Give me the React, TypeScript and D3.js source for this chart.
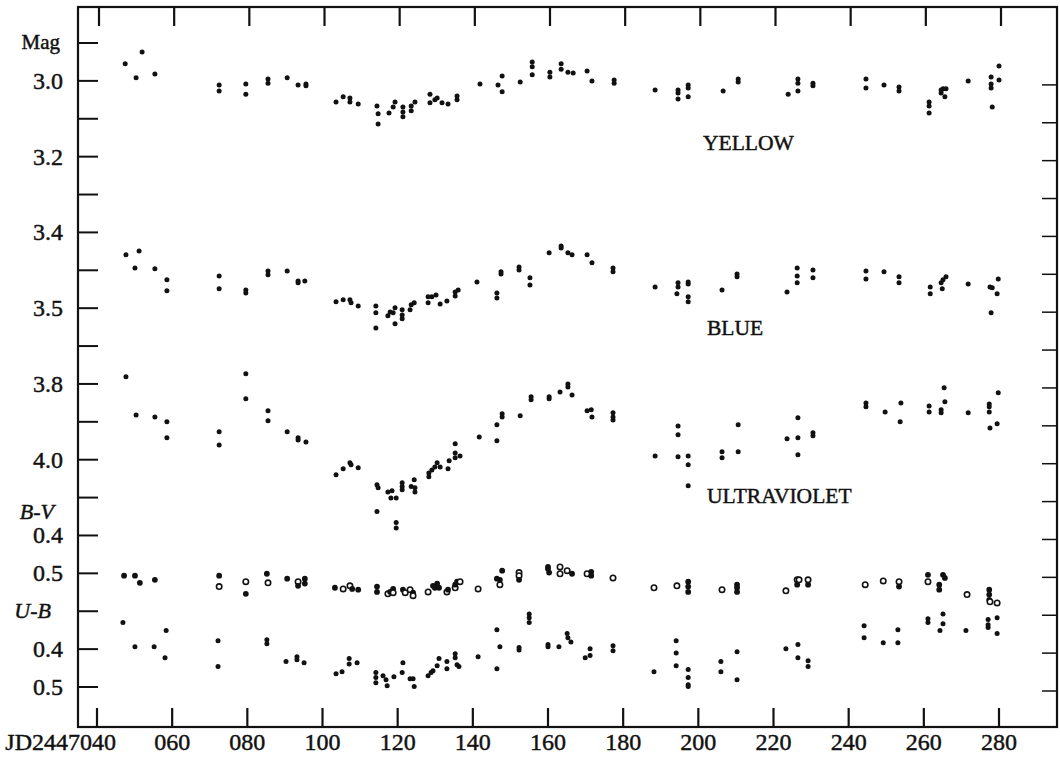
import React, { useRef, useEffect } from 'react';
import * as d3 from 'd3';

// days after JD 2447000
const xTicks = [40, 60, 80, 100, 120, 140, 160, 180, 200, 220, 240, 260, 280];
const xTickLabels = ['JD2447040', '060', '080', '100', '120', '140', '160', '180', '200', '220', '240', '260', '280'];

// tick labels per curve
const yellowTicks = [3.0, 3.2, 3.4];
const blueTicks = [3.5];
const uvTicks = [3.8, 4.0];
const bvTicks = [0.4, 0.5];
const ubTicks = [0.4, 0.5];

// [day, mag]
const yellow = [
  [47.5, 2.955], [50.4, 2.992], [52.0, 2.924], [55.4, 2.982], [72.5, 3.011], [72.5, 3.027], [79.6, 3.008], [79.6, 3.035],
  [85.5, 2.995], [85.5, 3.006], [90.6, 2.992], [93.5, 3.011], [95.6, 3.008], [95.6, 3.013], [103.6, 3.056], [105.5, 3.042],
  [107.3, 3.045], [107.3, 3.056], [109.5, 3.061], [114.5, 3.066], [114.8, 3.087], [114.8, 3.114], [117.7, 3.085], [118.8, 3.069],
  [119.3, 3.056], [121.4, 3.069], [121.4, 3.082], [121.4, 3.095], [123.6, 3.066], [123.6, 3.079], [124.6, 3.056], [128.6, 3.035],
  [128.6, 3.058], [129.9, 3.05], [130.5, 3.045], [131.8, 3.058], [133.4, 3.061], [135.8, 3.04], [135.8, 3.05], [141.9, 3.008],
  [146.7, 3.011], [147.8, 2.987], [147.8, 3.029], [152.6, 3.003], [155.8, 2.95], [155.8, 2.963], [155.8, 2.984], [160.5, 2.977],
  [160.5, 2.99], [163.5, 2.955], [163.5, 2.969], [165.3, 2.977], [166.7, 2.979], [170.4, 2.974], [171.7, 3.0], [177.6, 2.998],
  [177.6, 3.006], [188.5, 3.024], [194.6, 3.024], [194.6, 3.032], [194.6, 3.048], [197.3, 3.011], [197.3, 3.019], [197.3, 3.042],
  [206.6, 3.027], [210.6, 2.995], [210.6, 3.003], [223.9, 3.035], [226.5, 2.995], [226.5, 3.006], [226.5, 3.027], [230.5, 3.006],
  [230.5, 3.013], [244.6, 2.995], [244.6, 3.019], [249.4, 3.011], [253.4, 3.016], [253.4, 3.027], [261.4, 3.056], [261.4, 3.066],
  [261.4, 3.085], [264.6, 3.024], [265.1, 3.021], [265.9, 3.021], [265.6, 3.042], [264.6, 3.032], [271.8, 3.0], [277.9, 2.99],
  [277.9, 3.008], [277.9, 3.019], [278.2, 3.069], [280.0, 2.961], [280.0, 2.998],
];

const blue = [
  [47.7, 3.359], [51.2, 3.349], [50.1, 3.394], [55.4, 3.396], [58.6, 3.425], [58.6, 3.454], [72.5, 3.415], [72.5, 3.449],
  [79.6, 3.452], [79.6, 3.46], [85.5, 3.402], [85.5, 3.412], [90.6, 3.402], [93.5, 3.428], [93.5, 3.433], [95.3, 3.428],
  [103.6, 3.483], [105.5, 3.478], [107.3, 3.478], [107.6, 3.486], [109.5, 3.494], [114.2, 3.494], [114.2, 3.512], [114.2, 3.552],
  [117.4, 3.52], [118.0, 3.51], [118.8, 3.512], [119.3, 3.499], [119.3, 3.541], [121.2, 3.504], [121.2, 3.518], [121.2, 3.528],
  [123.3, 3.504], [123.6, 3.491], [124.4, 3.486], [128.1, 3.47], [128.1, 3.486], [129.1, 3.47], [130.2, 3.465], [131.3, 3.489],
  [133.1, 3.481], [135.3, 3.457], [135.3, 3.468], [136.1, 3.452], [141.1, 3.431], [146.4, 3.46], [146.4, 3.473], [147.5, 3.404],
  [147.5, 3.41], [152.3, 3.391], [152.3, 3.399], [155.2, 3.42], [155.2, 3.439], [160.3, 3.354], [163.5, 3.336], [163.5, 3.341],
  [165.3, 3.354], [166.4, 3.359], [170.4, 3.359], [171.7, 3.38], [177.3, 3.394], [177.3, 3.404], [188.5, 3.444], [194.6, 3.433],
  [194.6, 3.444], [194.3, 3.462], [197.3, 3.431], [197.3, 3.436], [197.3, 3.47], [197.3, 3.483], [206.3, 3.452], [210.3, 3.41],
  [210.3, 3.417], [223.6, 3.457], [226.3, 3.394], [226.3, 3.415], [226.3, 3.433], [230.5, 3.399], [230.5, 3.42], [244.6, 3.402],
  [244.6, 3.423], [249.4, 3.404], [253.4, 3.417], [253.4, 3.433], [261.7, 3.444], [261.7, 3.462], [264.6, 3.433], [265.1, 3.425],
  [265.9, 3.417], [264.9, 3.449], [271.8, 3.436], [277.6, 3.444], [278.2, 3.446], [279.5, 3.462], [279.8, 3.423], [277.9, 3.512],
];

const ultraviolet = [
  [47.7, 3.781], [50.4, 3.882], [55.4, 3.887], [58.6, 3.9], [58.6, 3.942], [72.5, 3.926], [72.5, 3.961], [79.6, 3.773],
  [79.6, 3.839], [85.5, 3.871], [85.5, 3.897], [90.6, 3.926], [93.5, 3.942], [93.5, 3.948], [95.6, 3.953], [103.6, 4.04],
  [105.5, 4.024], [107.3, 4.008], [107.6, 4.013], [109.5, 4.021], [114.5, 4.066], [114.8, 4.074], [114.5, 4.137], [117.4, 4.085],
  [118.5, 4.082], [118.2, 4.101], [119.6, 4.101], [119.6, 4.166], [119.6, 4.18], [121.2, 4.061], [121.2, 4.071], [121.2, 4.079],
  [123.6, 4.071], [124.4, 4.053], [124.6, 4.074], [124.6, 4.085], [128.3, 4.035], [128.3, 4.045], [129.1, 4.027], [129.9, 4.019],
  [130.5, 4.008], [131.3, 4.019], [133.4, 4.024], [133.7, 4.003], [135.3, 3.958], [135.3, 3.982], [135.3, 3.995], [136.6, 3.99],
  [141.7, 3.94], [146.4, 3.908], [146.4, 3.95], [147.8, 3.879], [147.8, 3.887], [152.6, 3.884], [155.5, 3.834], [155.5, 3.842],
  [160.3, 3.834], [160.3, 3.839], [163.2, 3.821], [165.3, 3.8], [165.3, 3.808], [166.4, 3.829], [170.4, 3.871], [171.5, 3.868],
  [171.7, 3.887], [177.3, 3.876], [177.3, 3.887], [177.3, 3.895], [188.5, 3.99], [194.6, 3.911], [194.6, 3.934], [194.6, 3.992],
  [197.3, 3.99], [197.3, 4.013], [197.3, 4.069], [206.3, 3.979], [206.3, 3.995], [210.6, 3.908], [210.6, 3.979], [223.6, 3.945],
  [226.5, 3.889], [226.5, 3.942], [226.5, 3.987], [230.5, 3.929], [230.5, 3.937], [244.6, 3.85], [244.6, 3.86], [249.7, 3.874],
  [253.9, 3.85], [253.7, 3.9], [261.4, 3.858], [261.4, 3.874], [264.6, 3.868], [264.6, 3.876], [265.6, 3.847], [265.4, 3.81],
  [271.8, 3.876], [277.4, 3.853], [277.4, 3.86], [277.4, 3.874], [277.6, 3.916], [279.8, 3.823], [279.5, 3.905],
];

// [day, B-V, open circle 1/0]
const bMinusV = [
  [47.2, 0.506, 0], [50.1, 0.506, 0], [51.4, 0.525, 0], [55.4, 0.517, 0], [72.5, 0.506, 0], [72.5, 0.535, 1], [79.6, 0.522, 1],
  [79.6, 0.554, 0], [85.2, 0.501, 0], [85.5, 0.525, 1], [90.6, 0.514, 0], [93.5, 0.522, 1], [93.5, 0.533, 0], [95.3, 0.514, 0],
  [95.3, 0.527, 0], [103.3, 0.538, 0], [105.5, 0.541, 1], [107.3, 0.533, 1], [107.9, 0.541, 0], [109.5, 0.543, 0], [114.5, 0.535, 0],
  [114.5, 0.549, 0], [117.4, 0.554, 1], [118.0, 0.549, 0], [118.8, 0.541, 0], [118.8, 0.551, 1], [121.4, 0.543, 0], [122.0, 0.551, 1],
  [123.3, 0.543, 1], [124.1, 0.551, 0], [124.1, 0.559, 1], [128.1, 0.549, 1], [129.4, 0.533, 0], [129.9, 0.538, 0], [130.5, 0.527, 0],
  [131.0, 0.538, 0], [133.1, 0.549, 1], [133.4, 0.543, 0], [135.3, 0.538, 1], [135.3, 0.53, 0], [135.8, 0.522, 0], [136.6, 0.522, 1],
  [141.4, 0.541, 1], [146.4, 0.514, 0], [147.2, 0.53, 1], [147.8, 0.493, 0], [147.2, 0.517, 0], [152.3, 0.498, 1], [152.3, 0.506, 1],
  [152.3, 0.517, 0], [160.0, 0.483, 0], [160.0, 0.488, 0], [160.3, 0.498, 0], [163.2, 0.483, 1], [163.2, 0.501, 1], [165.1, 0.493, 1],
  [166.4, 0.501, 0], [170.4, 0.501, 1], [171.5, 0.496, 0], [171.5, 0.506, 0], [177.3, 0.512, 1], [188.2, 0.538, 1], [194.3, 0.533, 1],
  [197.3, 0.522, 0], [197.3, 0.535, 0], [197.3, 0.549, 0], [206.3, 0.543, 1], [210.3, 0.53, 0], [210.3, 0.538, 0], [210.3, 0.549, 0],
  [223.3, 0.546, 1], [226.3, 0.517, 1], [226.3, 0.53, 0], [226.8, 0.517, 1], [229.2, 0.517, 1], [229.2, 0.53, 0], [244.4, 0.53, 1],
  [249.2, 0.52, 1], [253.4, 0.522, 1], [253.4, 0.535, 0], [261.1, 0.504, 0], [261.1, 0.522, 1], [264.1, 0.53, 0], [264.1, 0.543, 0],
  [265.1, 0.504, 0], [265.6, 0.512, 0], [271.5, 0.556, 1], [277.4, 0.543, 0], [277.4, 0.556, 0], [277.4, 0.57, 0], [277.6, 0.575, 1],
  [279.5, 0.578, 1],
];

const uMinusB = [
  [46.9, 0.33], [50.1, 0.394], [55.2, 0.394], [58.4, 0.351], [58.1, 0.423], [72.2, 0.378], [72.2, 0.446], [85.2, 0.375],
  [85.2, 0.386], [90.3, 0.433], [93.2, 0.42], [93.2, 0.428], [95.1, 0.436], [103.6, 0.465], [105.2, 0.46], [107.1, 0.425],
  [107.1, 0.439], [109.2, 0.436], [114.2, 0.462], [114.2, 0.475], [114.2, 0.489], [116.1, 0.47], [116.9, 0.481], [117.2, 0.497],
  [119.0, 0.473], [121.2, 0.462], [121.4, 0.436], [123.3, 0.478], [124.1, 0.478], [124.4, 0.499], [128.1, 0.47], [128.9, 0.462],
  [129.4, 0.457], [130.5, 0.444], [131.0, 0.425], [133.1, 0.433], [133.1, 0.452], [135.3, 0.412], [135.3, 0.423], [135.8, 0.441],
  [136.3, 0.446], [141.4, 0.42], [146.4, 0.349], [147.2, 0.394], [146.4, 0.452], [152.3, 0.396], [152.3, 0.402], [155.0, 0.307],
  [155.0, 0.317], [155.0, 0.33], [160.0, 0.388], [160.0, 0.394], [162.9, 0.394], [165.1, 0.359], [165.3, 0.37], [166.1, 0.381],
  [169.9, 0.423], [171.2, 0.399], [171.2, 0.417], [177.3, 0.391], [177.3, 0.404], [188.2, 0.46], [194.1, 0.378], [194.1, 0.41],
  [194.1, 0.444], [197.3, 0.454], [197.3, 0.475], [197.3, 0.494], [197.3, 0.499], [206.0, 0.433], [206.0, 0.46], [210.3, 0.407],
  [210.3, 0.481], [223.3, 0.399], [226.5, 0.388], [226.5, 0.423], [229.2, 0.431], [229.2, 0.446], [244.1, 0.338], [244.1, 0.37],
  [249.2, 0.383], [253.1, 0.349], [253.1, 0.383], [261.1, 0.32], [261.1, 0.33], [264.3, 0.351], [265.1, 0.307], [265.1, 0.333],
  [271.2, 0.351], [277.1, 0.322], [277.1, 0.336], [277.1, 0.343], [279.5, 0.317], [279.5, 0.359],
];

const serif = '"Liberation Serif", "Times New Roman", serif';
const ink = '#111';

const App = () => {
  const svgRef = useRef(null);

  useEffect(() => {
    const svg = d3.select(svgRef.current);
    svg.selectAll('*').remove();

    const frame = { left: 78, top: 7, right: 1057, bottom: 727 };
    const band = [43, 687];

    const x = d3.scaleLinear().domain([40, 280]).range([97, 999]);
    // every curve shares the same pixel band, shifted in magnitude
    const yV = d3.scaleLinear().domain([2.9, 4.6]).range(band);
    const yB = d3.scaleLinear().domain([2.8, 4.5]).range(band);
    const yU = d3.scaleLinear().domain([2.9, 4.6]).range(band);
    const yBV = d3.scaleLinear().domain([-0.9, 0.8]).range(band);
    const yUB = d3.scaleLinear().domain([-1.2, 0.5]).range(band);

    const g = svg.append('g').attr('fill', ink).attr('font-family', serif);
    const txt = g.append('g').attr('stroke', ink).attr('stroke-width', 0.45);

    g.append('rect')
      .attr('x', frame.left)
      .attr('y', frame.top)
      .attr('width', frame.right - frame.left)
      .attr('height', frame.bottom - frame.top)
      .attr('fill', 'none')
      .attr('stroke', ink)
      .attr('stroke-width', 2.2);

    // x ticks, top and bottom, pointing inwards
    g.selectAll('.xt-bottom')
      .data(xTicks)
      .join('line')
      .attr('x1', d => x(d))
      .attr('x2', d => x(d))
      .attr('y1', frame.bottom)
      .attr('y2', frame.bottom - 19)
      .attr('stroke', ink)
      .attr('stroke-width', 2.2);

    g.selectAll('.xt-top')
      .data(xTicks)
      .join('line')
      .attr('x1', d => x(d) + 2)
      .attr('x2', d => x(d) + 2)
      .attr('y1', frame.top)
      .attr('y2', frame.top + 19)
      .attr('stroke', ink)
      .attr('stroke-width', 2.2);

    txt.selectAll('.xl')
      .data(xTicks)
      .join('text')
      .attr('x', (d, i) => (i === 0 ? x(d) + 19 : x(d)))
      .attr('y', 750)
      .attr('text-anchor', (d, i) => (i === 0 ? 'end' : 'middle'))
      .attr('font-size', 24)
      .text((d, i) => xTickLabels[i]);

    // y ticks every 0.1 mag
    const yTicks = d3.range(18).map(i => 2.9 + i * 0.1);
    g.selectAll('.yt-left')
      .data(yTicks)
      .join('line')
      .attr('x1', frame.left)
      .attr('x2', frame.left + 20)
      .attr('y1', d => yV(d))
      .attr('y2', d => yV(d))
      .attr('stroke', ink)
      .attr('stroke-width', 2);

    g.selectAll('.yt-right')
      .data(yTicks.filter(d => d > 2.95))
      .join('line')
      .attr('x1', frame.right)
      .attr('x2', frame.right - 15)
      .attr('y1', d => yV(d) + 4)
      .attr('y2', d => yV(d) + 4)
      .attr('stroke', ink)
      .attr('stroke-width', 1.5);

    const labels = [
      ...yellowTicks.map(v => ({ y: yV(v), t: v.toFixed(1) })),
      ...blueTicks.map(v => ({ y: yB(v), t: v.toFixed(1) })),
      ...uvTicks.map(v => ({ y: yU(v), t: v.toFixed(1) })),
      ...bvTicks.map(v => ({ y: yBV(v), t: v.toFixed(1) })),
      ...ubTicks.map(v => ({ y: yUB(v), t: v.toFixed(1) })),
    ];
    txt.selectAll('.yl')
      .data(labels)
      .join('text')
      .attr('x', 63)
      .attr('y', d => d.y + 8)
      .attr('text-anchor', 'end')
      .attr('font-size', 24)
      .text(d => d.t);

    txt.append('text').attr('x', 60).attr('y', yV(2.9) + 6).attr('text-anchor', 'end').attr('font-size', 21).text('Mag');
    txt.append('text')
      .attr('x', 54)
      .attr('y', yBV(0.4) - 16)
      .attr('text-anchor', 'end')
      .attr('font-size', 22)
      .attr('font-style', 'italic')
      .text('B-V');
    txt.append('text')
      .attr('x', 51)
      .attr('y', yUB(0.3) + 7)
      .attr('text-anchor', 'end')
      .attr('font-size', 22)
      .attr('font-style', 'italic')
      .text('U-B');

    // curve names
    txt.append('text').attr('x', 703).attr('y', 150).attr('font-size', 21.5).text('YELLOW');
    txt.append('text').attr('x', 707).attr('y', 335).attr('font-size', 21.5).text('BLUE');
    txt.append('text').attr('x', 707).attr('y', 503).attr('font-size', 21.5).text('ULTRAVIOLET');

    const dots = (data, y, r) =>
      g.append('g')
        .selectAll('circle')
        .data(data)
        .join('circle')
        .attr('cx', d => x(d[0]))
        .attr('cy', d => y(d[1]))
        .attr('r', r);

    dots(yellow, yV, 2.5);
    dots(blue, yB, 2.5);
    dots(ultraviolet, yU, 2.5);
    dots(uMinusB, yUB, 2.5);

    g.append('g')
      .selectAll('circle')
      .data(bMinusV)
      .join('circle')
      .attr('cx', d => x(d[0]))
      .attr('cy', d => yBV(d[1]))
      .attr('r', d => (d[2] ? 2.7 : 2.9))
      .attr('fill', d => (d[2] ? '#fff' : ink))
      .attr('stroke', ink)
      .attr('stroke-width', d => (d[2] ? 1.6 : 0));
  }, []);

  return (
    <svg
      ref={svgRef}
      width={1060}
      height={760}
      style={{ position: 'absolute', left: 0, top: 0, background: '#fff' }}
    />
  );
};

export default App;
